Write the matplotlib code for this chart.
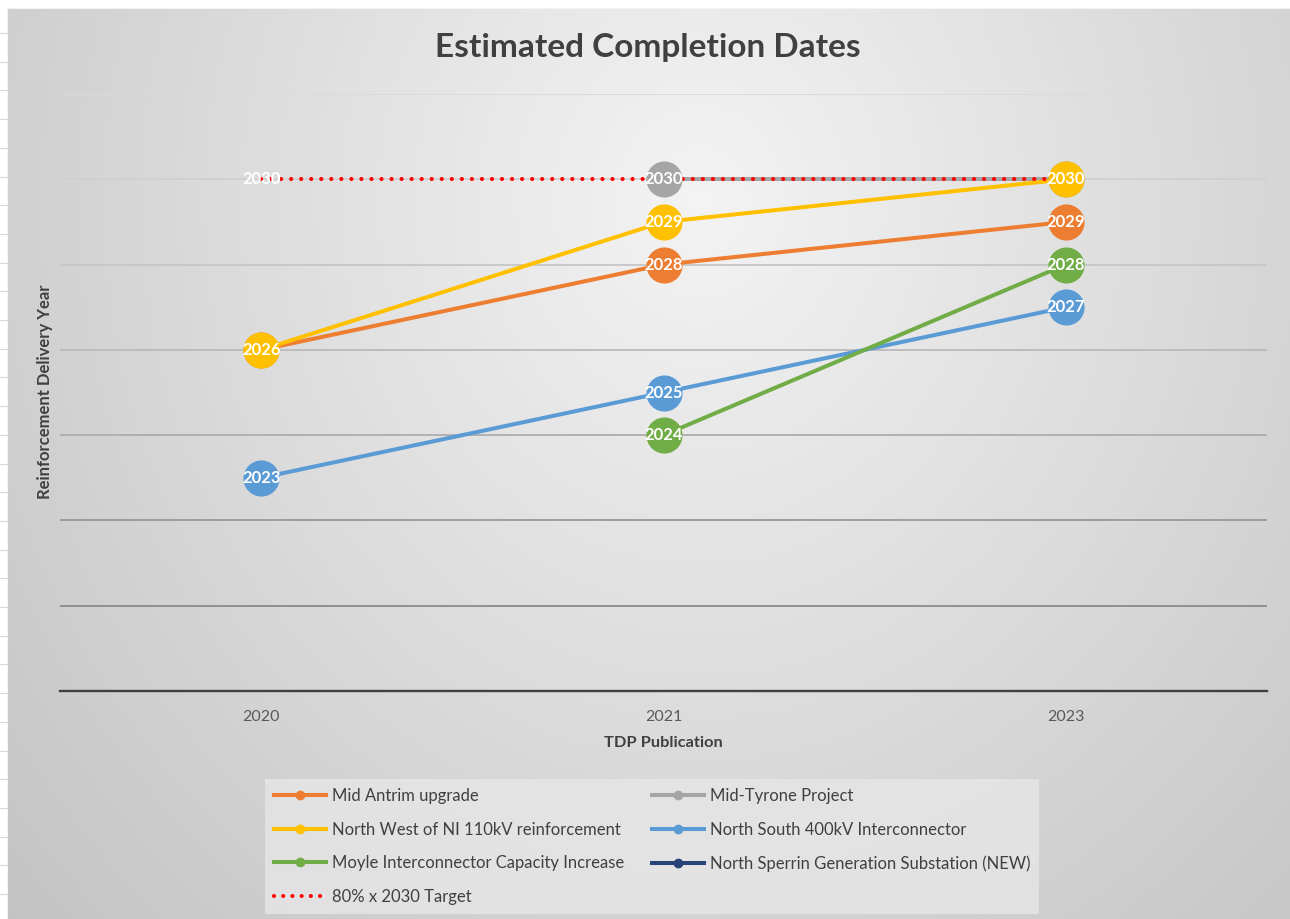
import numpy as np
import matplotlib
matplotlib.use("Agg")
import matplotlib.pyplot as plt
from matplotlib.lines import Line2D

plt.rcParams['font.family'] = ['Lato', 'DejaVu Sans']

# --- data -------------------------------------------------------------
publications = ["2020", "2021", "2023"]
mid_antrim = [2026, 2028, 2029]
mid_tyrone = [np.nan, 2030, 2030]
north_west = [2026, 2029, 2030]
north_south = [2023, 2025, 2027]
moyle = [np.nan, 2024, 2028]
north_sperrin = [np.nan, np.nan, np.nan]
target_2030 = [2030, 2030, 2030]

series_names = [
    "Mid Antrim upgrade",
    "Mid-Tyrone Project",
    "North West of NI 110kV reinforcement",
    "North South 400kV Interconnector",
    "Moyle Interconnector Capacity Increase",
    "North Sperrin Generation Substation (NEW)",
]
series_values = [mid_antrim, mid_tyrone, north_west, north_south, moyle, north_sperrin]
series_colors = ["#ED7D31", "#A5A5A5", "#FFC000", "#5B9BD5", "#70AD47", "#264478"]
target_name = "80% x 2030 Target"

y_min, y_max, y_step = 2018, 2032, 2

# --- figure -------------------------------------------------------------
W, H = 1290, 919
fig = plt.figure(figsize=(W / 100, H / 100), dpi=100)
fig.patch.set_facecolor("white")

# faint worksheet rows at the left edge
sheet = fig.add_axes([0, 0, 1, 1], zorder=-3)
sheet.set_xlim(0, W)
sheet.set_ylim(H, 0)
sheet.axis("off")
for yy in np.arange(33, H, 28.7):
    sheet.plot([0, 8], [yy, yy], color="#d8d8d8", lw=0.8)

# chart area with soft radial gradient
x0, y0 = 8, 9
bg = fig.add_axes([x0 / W, 0, 1 - x0 / W, 1 - y0 / H], zorder=-2)
gx, gy = np.meshgrid(np.arange(x0, W), np.arange(y0, H))
d = np.sqrt(((gx - 700) / 800.0) ** 2 + ((gy - 200) / 900.0) ** 2)
shade = np.clip(0.955 - 0.16 * d, 0.0, 1.0)
bg.imshow(np.dstack([shade, shade, shade]), aspect="auto", interpolation="bilinear")
bg.axis("off")
sheet.plot([x0, W], [y0, y0], color="#c8c8c8", lw=1.0)
sheet.plot([x0, x0], [y0, H], color="#c8c8c8", lw=1.0)

# plot area
left, right, top, bottom = 60, 1267, 94, 691
ax = fig.add_axes([left / W, 1 - bottom / H, (right - left) / W, (bottom - top) / H])
ax.set_facecolor("none")
x = np.arange(len(publications))
ax.set_xlim(-0.5, len(publications) - 0.5)
ax.set_ylim(y_min, y_max)

grid_levels = np.arange(y_min + y_step, y_max + 0.1, y_step)
grid_cols = ["#8a8a8a", "#989898", "#adadad", "#bababa", "#c6c6c6", "#d0d0d0", "#dadada"]
for lvl, c in zip(grid_levels, grid_cols):
    ax.axhline(lvl, color=c, lw=1.3, zorder=1)

for s in ["top", "right", "left"]:
    ax.spines[s].set_visible(False)
ax.spines["bottom"].set_color("#404040")
ax.spines["bottom"].set_linewidth(1.7)
ax.set_yticks([])
ax.set_xticks(x)
ax.set_xticklabels(publications, fontsize=11.5, color="#595959")
ax.tick_params(axis="x", length=0, pad=14)

lw = 2.9
msize = 25
label_kw = dict(ha="center", va="center", color="white", fontsize=12, fontweight="bold")

for i, (vals, col) in enumerate(zip(series_values, series_colors)):
    ax.plot(x, vals, color=col, lw=lw, solid_capstyle="round", zorder=2)

ax.plot(x, target_2030, color="#FF0000", lw=3.0, linestyle=(0, (0.01, 2.4)),
        dash_capstyle="round", zorder=2.5)
ax.text(x[0], target_2030[0], f"{target_2030[0]}", zorder=2.6, **label_kw)

for i, (vals, col) in enumerate(zip(series_values, series_colors)):
    ax.plot(x, vals, linestyle="none", marker="o", markersize=msize,
            markerfacecolor=col, markeredgecolor=col, zorder=3 + 2 * i)
    for xi, v in zip(x, vals):
        if not np.isnan(v):
            ax.text(xi, v, f"{int(v)}", zorder=4 + 2 * i, **label_kw)

# titles
fig.text(648 / W, 1 - 47 / H, "Estimated Completion Dates", ha="center", va="center",
         fontsize=24, fontweight="bold", color="#404040")
fig.text(45 / W, 1 - 392 / H, "Reinforcement Delivery Year", ha="center", va="center",
         rotation=90, fontsize=12, fontweight="bold", color="#404040")
fig.text(663 / W, 1 - 743 / H, "TDP Publication", ha="center", va="center",
         fontsize=11.8, fontweight="bold", color="#404040")

# legend (two columns, filled column by column)
def series_handle(col):
    return Line2D([], [], color=col, lw=lw, marker="o", markersize=6,
                  markerfacecolor=col, markeredgecolor=col)

h = [series_handle(c) for c in series_colors]
target_handle = Line2D([], [], color="#FF0000", lw=3.0, linestyle=(0, (0.01, 2.2)),
                       dash_capstyle="round")
handles = [h[0], h[2], h[4], target_handle, h[1], h[3], h[5]]
labels = [series_names[0], series_names[2], series_names[4], target_name,
          series_names[1], series_names[3], series_names[5]]
leg = fig.legend(handles, labels, ncol=2, loc="upper left",
                 bbox_to_anchor=(265 / W, 1 - 779 / H), frameon=True,
                 fontsize=12, handlelength=3.1, handletextpad=0.35,
                 columnspacing=1.7, labelspacing=1.05, borderpad=0.55,
                 borderaxespad=0)
leg.get_frame().set_facecolor("#e8e8e8")
leg.get_frame().set_alpha(0.75)
leg.get_frame().set_edgecolor("none")
leg.get_frame().set_boxstyle("square", pad=0)
for t in leg.get_texts():
    t.set_color("#404040")

fig.savefig("out.png", dpi=100)
